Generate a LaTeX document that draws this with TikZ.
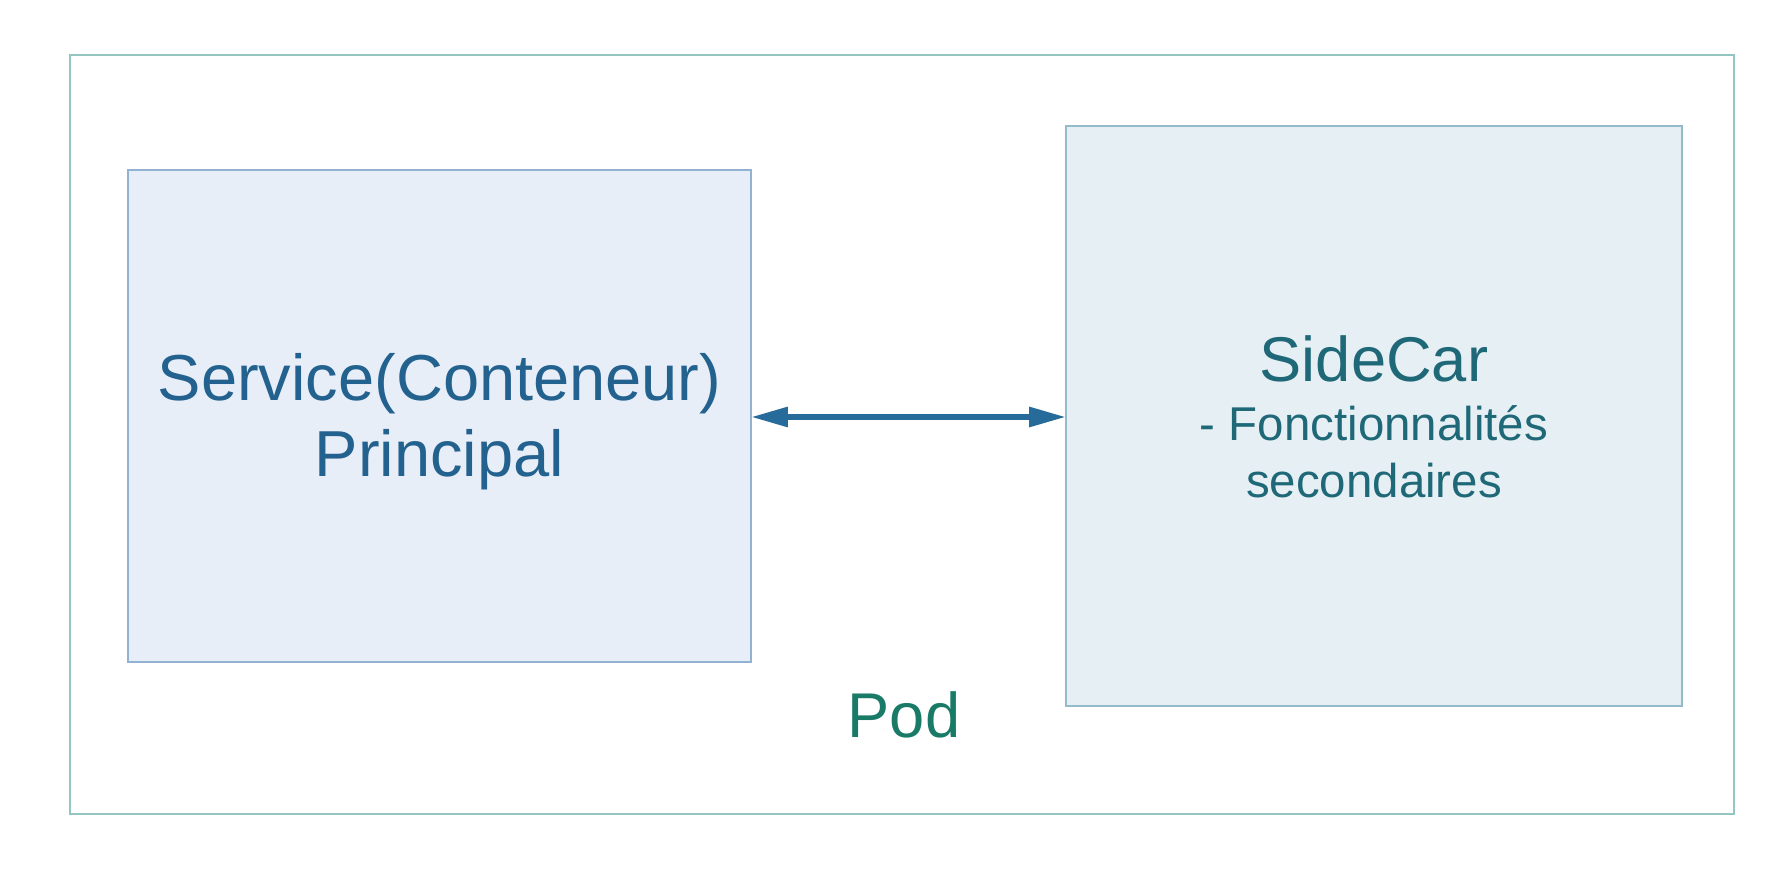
\documentclass[tikz,border=0pt]{standalone}
\usepackage{fontspec}
\setmainfont{Liberation Sans}
\usetikzlibrary{arrows.meta}
\definecolor{podline}{HTML}{93C6C0}
\definecolor{podtext}{HTML}{1A7A68}
\definecolor{mainfill}{HTML}{E8EEF8}
\definecolor{mainline}{HTML}{93B2D2}
\definecolor{maintext}{HTML}{23618E}
\definecolor{carfill}{HTML}{E6EFF3}
\definecolor{carline}{HTML}{92BCCA}
\definecolor{cartext}{HTML}{1F6878}
\definecolor{linkcol}{HTML}{276B9B}
\tikzset{
  box/.style={draw, line width=1.2pt, inner sep=0pt, outer sep=0pt},
  big/.style={font=\fontsize{36}{40}\selectfont, anchor=base, inner sep=0pt},
  small/.style={font=\fontsize{27}{30}\selectfont, anchor=base, inner sep=0pt}
}
\begin{document}
\begin{tikzpicture}[x=0.02cm, y=-0.02cm]
 \useasboundingbox (0,0) rectangle (1790,878);
 % pod
 \node[box, draw=podline, minimum width=33.28cm, minimum height=15.18cm] (pod) at (902,434.5) {};
 % containers
 \node[box, draw=mainline, fill=mainfill, minimum width=12.46cm, minimum height=9.84cm] (main) at (439.5,416) {};
 \node[box, draw=carline, fill=carfill, minimum width=12.32cm, minimum height=11.6cm] (car) at (1374,416) {};
 % texts
 \node[big, font=\fontsize{37}{40}\selectfont, text=maintext] (mainA) at (439.5,400) {Service(Conteneur)};
 \node[big, font=\fontsize{37}{40}\selectfont, text=maintext] (mainB) at (439.5,476) {Principal};
 \node[big, text=cartext] (carA) at (1374,381) {SideCar};
 \node[small, text=cartext] (carB) at (1374,440) {- Fonctionnalités};
 \node[small, text=cartext] (carC) at (1374,497) {secondaires};
 \node[big, text=podtext] (podname) at (904,737) {Pod};
 % link
 \draw[linkcol, line width=3.4pt, {Triangle[length=0.74cm,width=0.38cm]}-{Triangle[length=0.74cm,width=0.38cm]}] (main.east |- 0,417) -- (car.west |- 0,417);
\end{tikzpicture}
\end{document}
